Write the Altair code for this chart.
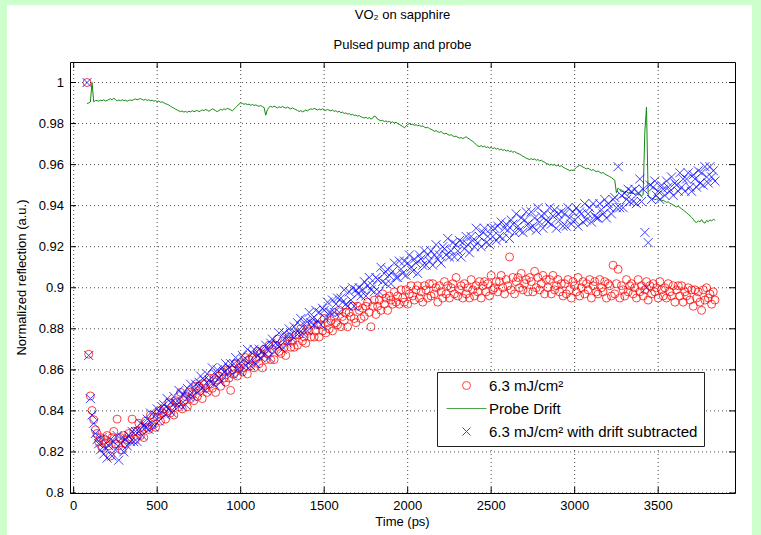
import altair as alt
import pandas as pd

# ---- measured data (10 ps sampling) --------------------------------------
time_ps = [
    80, 90, 100, 110, 120, 130,
    140, 150, 160, 170, 180, 190, 200, 210, 220, 230, 240, 250, 260, 270, 280, 290, 300, 310, 320, 330,
    340, 350, 360, 370, 380, 390, 400, 410, 420, 430, 440, 450, 460, 470, 480, 490, 500, 510, 520, 530,
    540, 550, 560, 570, 580, 590, 600, 610, 620, 630, 640, 650, 660, 670, 680, 690, 700, 710, 720, 730,
    740, 750, 760, 770, 780, 790, 800, 810, 820, 830, 840, 850, 860, 870, 880, 890, 900, 910, 920, 930,
    940, 950, 960, 970, 980, 990, 1000, 1010, 1020, 1030, 1040, 1050, 1060, 1070, 1080, 1090, 1100, 1110, 1120, 1130,
    1140, 1150, 1160, 1170, 1180, 1190, 1200, 1210, 1220, 1230, 1240, 1250, 1260, 1270, 1280, 1290, 1300, 1310, 1320, 1330,
    1340, 1350, 1360, 1370, 1380, 1390, 1400, 1410, 1420, 1430, 1440, 1450, 1460, 1470, 1480, 1490, 1500, 1510, 1520, 1530,
    1540, 1550, 1560, 1570, 1580, 1590, 1600, 1610, 1620, 1630, 1640, 1650, 1660, 1670, 1680, 1690, 1700, 1710, 1720, 1730,
    1740, 1750, 1760, 1770, 1780, 1790, 1800, 1810, 1820, 1830, 1840, 1850, 1860, 1870, 1880, 1890, 1900, 1910, 1920, 1930,
    1940, 1950, 1960, 1970, 1980, 1990, 2000, 2010, 2020, 2030, 2040, 2050, 2060, 2070, 2080, 2090, 2100, 2110, 2120, 2130,
    2140, 2150, 2160, 2170, 2180, 2190, 2200, 2210, 2220, 2230, 2240, 2250, 2260, 2270, 2280, 2290, 2300, 2310, 2320, 2330,
    2340, 2350, 2360, 2370, 2380, 2390, 2400, 2410, 2420, 2430, 2440, 2450, 2460, 2470, 2480, 2490, 2500, 2510, 2520, 2530,
    2540, 2550, 2560, 2570, 2580, 2590, 2600, 2610, 2620, 2630, 2640, 2650, 2660, 2670, 2680, 2690, 2700, 2710, 2720, 2730,
    2740, 2750, 2760, 2770, 2780, 2790, 2800, 2810, 2820, 2830, 2840, 2850, 2860, 2870, 2880, 2890, 2900, 2910, 2920, 2930,
    2940, 2950, 2960, 2970, 2980, 2990, 3000, 3010, 3020, 3030, 3040, 3050, 3060, 3070, 3080, 3090, 3100, 3110, 3120, 3130,
    3140, 3150, 3160, 3170, 3180, 3190, 3200, 3210, 3220, 3230, 3240, 3250, 3260, 3270, 3280, 3290, 3300, 3310, 3320, 3330,
    3340, 3350, 3360, 3370, 3380, 3390, 3400, 3410, 3420, 3430, 3440, 3450, 3460, 3470, 3480, 3490, 3500, 3510, 3520, 3530,
    3540, 3550, 3560, 3570, 3580, 3590, 3600, 3610, 3620, 3630, 3640, 3650, 3660, 3670, 3680, 3690, 3700, 3710, 3720, 3730,
    3740, 3750, 3760, 3770, 3780, 3790, 3800, 3810, 3820, 3830, 3840,
]

# normalized reflection at 6.3 mJ/cm^2
reflection = [
    1.000, 0.8676, 0.8473, 0.8402, 0.8357, 0.8308,
    .829, .825, .827, .822, .826, .824, .828, .823, .818, .827, .830, .824, .836, .823, .827, .821, .828, .824, .826, .829,
    .826, .836, .830, .826, .830, .834, .828, .832, .827, .835, .832, .831, .838, .833, .837, .832, .837, .840, .835, .839,
    .841, .836, .840, .844, .839, .842, .838, .845, .844, .842, .849, .841, .845, .847, .842, .849, .846, .848, .845, .852,
    .847, .852, .851, .846, .853, .851, .849, .856, .853, .851, .856, .849, .855, .857, .852, .859, .856, .854, .860, .856,
    .850, .860, .858, .863, .857, .861, .863, .859, .861, .866, .858, .865, .862, .866, .861, .865, .869, .863, .868, .861,
    .870, .865, .868, .872, .865, .870, .865, .872, .875, .869, .868, .874, .871, .867, .874, .876, .871, .874, .871, .877,
    .872, .877, .880, .874, .876, .873, .880, .879, .876, .883, .876, .879, .882, .876, .882, .879, .885, .878, .883, .880,
    .884, .879, .886, .883, .882, .889, .881, .886, .884, .888, .881, .888, .886, .891, .885, .883, .891, .889, .885, .890,
    .886, .891, .893, .888, .881, .891, .894, .887, .891, .894, .889, .897, .892, .895, .889, .896, .894, .892, .898, .893,
    .896, .892, .899, .895, .893, .899, .892, .897, .901, .896, .894, .899, .901, .895, .898, .893, .901, .899, .895, .902,
    .896, .902, .897, .900, .893, .901, .898, .895, .903, .897, .901, .895, .900, .902, .897, .905, .896, .899, .901, .895,
    .902, .897, .900, .895, .904, .899, .896, .901, .898, .903, .895, .901, .903, .898, .902, .896, .906, .899, .900, .903,
    .898, .903, .906, .900, .897, .904, .901, .915, .899, .905, .897, .903, .905, .900, .907, .899, .902, .904, .898, .905,
    .903, .898, .908, .900, .905, .899, .902, .906, .897, .904, .900, .904, .897, .906, .899, .901, .904, .898, .902, .896,
    .902, .897, .904, .899, .895, .903, .901, .898, .905, .896, .900, .903, .897, .902, .899, .904, .895, .901, .903, .898,
    .897, .904, .900, .898, .903, .895, .902, .901, .896, .911, .897, .902, .909, .895, .901, .899, .896, .904, .898, .901,
    .902, .897, .900, .895, .904, .898, .901, .896, .899, .903, .894, .901, .897, .902, .898, .900, .895, .903, .899, .896,
    .900, .895, .902, .898, .896, .901, .893, .899, .901, .896, .901, .893, .898, .896, .900, .894, .899, .891, .899, .895,
    .898, .893, .889, .899, .894, .900, .895, .897, .892, .898, .894,
]

# probe-only signal (drift reference)
drift = [
    0.9898, 0.9900, 0.9905, 1.0000, 0.9906, 0.9912,
    .9912, .9909, .9914, .9911, .9916, .9910, .9913, .9917, .9921, .9916, .9923, .9918, .9910, .9915, .9911, .9916, .9912, .9914, .9909, .9913,
    .9915, .9912, .9917, .9920, .9916, .9919, .9922, .9917, .9914, .9918, .9913, .9916, .9911, .9914, .9909, .9912, .9907, .9909, .9904, .9906,
    .9901, .9897, .9894, .9890, .9884, .9879, .9876, .9870, .9866, .9862, .9858, .9861, .9856, .9859, .9855, .9860, .9857, .9863, .9858, .9861,
    .9864, .9858, .9862, .9867, .9863, .9869, .9865, .9860, .9866, .9872, .9868, .9863, .9858, .9864, .9869, .9866, .9872, .9868, .9874, .9871,
    .9867, .9862, .9870, .9878, .9886, .9895, .9901, .9898, .9894, .9897, .9892, .9895, .9889, .9893, .9888, .9891, .9887, .9884, .9888, .9882,
    .9879, .9841, .9868, .9880, .9884, .9879, .9885, .9881, .9876, .9882, .9878, .9883, .9879, .9875, .9880, .9876, .9871, .9877, .9872, .9868,
    .9864, .9859, .9863, .9857, .9861, .9866, .9862, .9868, .9872, .9869, .9874, .9870, .9866, .9871, .9867, .9872, .9868, .9864, .9869, .9865,
    .9862, .9866, .9859, .9863, .9856, .9860, .9853, .9856, .9849, .9852, .9846, .9849, .9842, .9845, .9839, .9842, .9836, .9839, .9833, .9830,
    .9827, .9831, .9825, .9829, .9822, .9826, .9837, .9833, .9821, .9817, .9813, .9816, .9810, .9813, .9808, .9811, .9805, .9808, .9803, .9806,
    .9800, .9796, .9791, .9786, .9780, .9787, .9796, .9800, .9794, .9797, .9791, .9795, .9789, .9792, .9786, .9789, .9783, .9779, .9782, .9776,
    .9772, .9768, .9762, .9766, .9760, .9757, .9761, .9754, .9750, .9753, .9747, .9743, .9746, .9740, .9736, .9739, .9733, .9729, .9732, .9727,
    .9731, .9736, .9729, .9724, .9718, .9713, .9706, .9697, .9691, .9688, .9693, .9686, .9690, .9683, .9687, .9680, .9684, .9678, .9682, .9675,
    .9679, .9672, .9676, .9669, .9673, .9666, .9670, .9663, .9667, .9660, .9664, .9658, .9655, .9651, .9646, .9641, .9636, .9631, .9628, .9625,
    .9629, .9624, .9628, .9621, .9625, .9618, .9622, .9615, .9612, .9606, .9603, .9598, .9602, .9597, .9601, .9594, .9598, .9591, .9595, .9588,
    .9584, .9579, .9576, .9570, .9574, .9571, .9578, .9586, .9592, .9597, .9593, .9588, .9584, .9579, .9583, .9577, .9572, .9576, .9570, .9566,
    .9569, .9563, .9558, .9562, .9555, .9550, .9546, .9541, .9537, .9530, .9524, .9462, .9486, .9478, .9467, .9472, .9465, .9469, .9461, .9464,
    .9458, .9462, .9455, .9459, .9452, .9456, .9449, .9453, .9760, .9880, .9452, .9441, .9437, .9433, .9429, .9432, .9426, .9430, .9423, .9427,
    .9421, .9416, .9419, .9412, .9408, .9403, .9399, .9394, .9398, .9391, .9385, .9379, .9372, .9366, .9358, .9351, .9343, .9334, .9322, .9318,
    .9326, .9321, .9332, .9319, .9315, .9328, .9322, .9331, .9325, .9334, .9329,
]

# reflection after removing the probe drift
corrected = [
    1.000, 0.867, 0.846, 0.838, 0.834, 0.829,
    .826, .824, .821, .827, .819, .822, .817, .823, .826, .818, .825, .821, .828, .816, .824, .827, .820, .826, .823, .828,
    .825, .830, .825, .830, .825, .830, .834, .828, .833, .832, .836, .831, .839, .834, .832, .838, .841, .835, .839, .842,
    .843, .838, .846, .841, .844, .839, .847, .844, .843, .850, .843, .848, .848, .843, .851, .847, .853, .847, .850, .853,
    .849, .854, .857, .851, .855, .850, .858, .855, .854, .861, .853, .858, .860, .856, .854, .861, .859, .863, .858, .861,
    .863, .858, .863, .866, .860, .863, .859, .867, .865, .862, .870, .864, .862, .868, .870, .863, .867, .870, .866, .869,
    .867, .872, .870, .866, .873, .875, .869, .873, .872, .878, .872, .870, .878, .876, .873, .880, .877, .875, .881, .878,
    .883, .878, .885, .878, .882, .884, .879, .888, .883, .885, .882, .889, .884, .888, .882, .890, .889, .885, .893, .888,
    .888, .894, .888, .892, .895, .888, .895, .893, .899, .892, .891, .898, .894, .900, .891, .899, .897, .900, .896, .899,
    .903, .896, .901, .905, .899, .901, .898, .905, .904, .898, .910, .903, .907, .902, .909, .906, .902, .908, .912, .905,
    .905, .913, .909, .907, .913, .906, .912, .916, .910, .908, .914, .912, .907, .916, .914, .911, .918, .911, .916, .913,
    .918, .911, .916, .921, .914, .916, .912, .920, .919, .916, .924, .915, .918, .922, .915, .921, .918, .923, .915, .922,
    .919, .925, .921, .917, .925, .923, .920, .929, .922, .925, .920, .927, .929, .922, .925, .921, .929, .925, .929, .923,
    .930, .925, .932, .924, .929, .931, .928, .924, .933, .931, .927, .936, .930, .928, .934, .927, .933, .937, .931, .929,
    .937, .930, .934, .928, .939, .932, .935, .929, .936, .933, .932, .939, .931, .935, .938, .929, .936, .933, .937, .930,
    .936, .930, .939, .934, .931, .937, .933, .939, .930, .937, .936, .932, .941, .933, .936, .939, .932, .941, .935, .934,
    .934, .941, .938, .936, .943, .934, .941, .939, .936, .943, .944, .939, .959, .939, .945, .939, .946, .943, .948, .942,
    .947, .942, .948, .941, .946, .953, .942, .948, .927, .900, .922, .950, .943, .949, .952, .945, .947, .943, .950, .948,
    .945, .952, .949, .947, .954, .945, .951, .950, .947, .956, .949, .953, .947, .953, .956, .949, .947, .955, .953, .949,
    .957, .951, .956, .950, .959, .954, .951, .959, .954, .957, .952,
]

series_names = ["6.3 mJ/cm²", "Probe Drift", "6.3 mJ/cm² with drift subtracted"]
x_ticks = [0, 500, 1000, 1500, 2000, 2500, 3000, 3500]
x_tick_labels = ["0", "500", "1000", "1500", "2000", "2500", "3000", "3500"]
y_ticks = [0.8, 0.82, 0.84, 0.86, 0.88, 0.9, 0.92, 0.94, 0.96, 0.98, 1.0]
y_tick_labels = ["0.8", "0.82", "0.84", "0.86", "0.88", "0.9", "0.92", "0.94", "0.96", "0.98", "1"]
title_lines = ["VO₂ on sapphire", "Pulsed pump and probe"]
x_title = "Time (ps)"
y_title = "Normalized reflection (a.u.)"

# ---- tables --------------------------------------------------------------
n = len(time_ps)
points = pd.DataFrame({
    "time": time_ps + time_ps,
    "value": reflection + corrected,
    "series": [series_names[0]] * n + [series_names[2]] * n,
})
drift_df = pd.DataFrame({"time": time_ps, "value": drift})
xt_df = pd.DataFrame({"tick": x_ticks, "label": x_tick_labels})
yt_df = pd.DataFrame({"tick": y_ticks, "label": y_tick_labels})

W, H = 665, 431
FONT = "Liberation Sans"
RED, GREEN, BLUE = "#ff0000", "#118a11", "#0000ff"
CROSS = "M-1,-1L1,1M-1,1L1,-1"
DASH = "M-5,0L5,0"

xs = alt.Scale(domain=[-22, 3960], nice=False, zero=False)
ys = alt.Scale(domain=[0.8, 1.01], nice=False, zero=False)

legend = alt.Legend(orient="none", legendX=367, legendY=310, title=None,
                    strokeColor="#222222", fillColor="white", padding=6,
                    labelFont=FONT, labelFontSize=15, labelColor="black",
                    labelOffset=15, symbolOffset=16, symbolSize=64,
                    rowPadding=7, symbolStrokeWidth=1, labelLimit=400)

color_scale = alt.Scale(domain=series_names, range=[RED, GREEN, BLUE])
shape_scale = alt.Scale(domain=series_names, range=["circle", DASH, CROSS])

one_row = alt.Data(values=[{}])


# light-green frame around the figure
def strip(x0, x1, y0, y1):
    return alt.Chart(one_row).mark_rect(color="#ccffcc", clip=False).encode(
        x=alt.value(x0), x2=alt.value(x1), y=alt.value(y0), y2=alt.value(y1))


strips = [
    strip(-70, -63, -62, 473),
    strip(-70, 691, -62, -57),
    strip(682, 691, -62, 473),
]

# dotted grid
grid_style = dict(color="black", strokeWidth=1, strokeDash=[1, 3], opacity=0.7)
grid_v = alt.Chart(xt_df).mark_rule(**grid_style).encode(
    x=alt.X("tick:Q", scale=xs, axis=None), y=alt.value(0), y2=alt.value(H))
grid_h = alt.Chart(yt_df).mark_rule(**grid_style).encode(
    y=alt.Y("tick:Q", scale=ys, axis=None), x=alt.value(0), x2=alt.value(W))

circles = alt.Chart(points).transform_filter(
    alt.datum.series == series_names[0]
).mark_point(filled=False, strokeWidth=1, opacity=0.75, size=64).encode(
    x=alt.X("time:Q", scale=xs, axis=None),
    y=alt.Y("value:Q", scale=ys, axis=None),
    color=alt.Color("series:N", scale=color_scale, legend=legend),
    shape=alt.Shape("series:N", scale=shape_scale, legend=legend),
)

drift_line = alt.Chart(drift_df).mark_line(color=GREEN, strokeWidth=1).encode(
    x=alt.X("time:Q", scale=xs, axis=None),
    y=alt.Y("value:Q", scale=ys, axis=None),
)

crosses = alt.Chart(points).transform_filter(
    alt.datum.series == series_names[2]
).mark_point(filled=False, strokeWidth=1, opacity=0.75, size=81).encode(
    x=alt.X("time:Q", scale=xs, axis=None),
    y=alt.Y("value:Q", scale=ys, axis=None),
    color=alt.Color("series:N", scale=color_scale, legend=None),
    shape=alt.Shape("series:N", scale=shape_scale, legend=None),
)

# inward tick marks on all four sides
tick_style = dict(color="black", strokeWidth=1)
xt_bottom = alt.Chart(xt_df).mark_rule(**tick_style).encode(
    x=alt.X("tick:Q", scale=xs, axis=None), y=alt.value(H), y2=alt.value(H - 6))
xt_top = alt.Chart(xt_df).mark_rule(**tick_style).encode(
    x=alt.X("tick:Q", scale=xs, axis=None), y=alt.value(0), y2=alt.value(6))
yt_left = alt.Chart(yt_df).mark_rule(**tick_style).encode(
    y=alt.Y("tick:Q", scale=ys, axis=None), x=alt.value(0), x2=alt.value(6))
yt_right = alt.Chart(yt_df).mark_rule(**tick_style).encode(
    y=alt.Y("tick:Q", scale=ys, axis=None), x=alt.value(W), x2=alt.value(W - 6))

# tick labels
text_style = dict(font=FONT, fontSize=13, color="black")
x_labels = alt.Chart(xt_df).mark_text(align="center", baseline="middle", **text_style).encode(
    x=alt.X("tick:Q", scale=xs, axis=None), y=alt.value(H + 13), text="label:N")
y_labels = alt.Chart(yt_df).mark_text(align="right", baseline="middle", **text_style).encode(
    y=alt.Y("tick:Q", scale=ys, axis=None), x=alt.value(-6), text="label:N")

# axis titles and figure title
x_title_mark = alt.Chart(one_row).mark_text(align="center", baseline="middle", **text_style).encode(
    x=alt.value(W / 2), y=alt.value(H + 29), text=alt.value(x_title))
y_title_mark = alt.Chart(one_row).mark_text(align="center", baseline="middle", angle=270,
                                            **text_style).encode(
    x=alt.value(-48), y=alt.value(H / 2), text=alt.value(y_title))
title_1 = alt.Chart(one_row).mark_text(align="center", baseline="middle", **text_style).encode(
    x=alt.value(W / 2), y=alt.value(-47), text=alt.value(title_lines[0]))
title_2 = alt.Chart(one_row).mark_text(align="center", baseline="middle", **text_style).encode(
    x=alt.value(W / 2), y=alt.value(-17), text=alt.value(title_lines[1]))

chart = alt.layer(
    grid_v, grid_h, circles, drift_line, crosses,
    xt_bottom, xt_top, yt_left, yt_right,
    x_labels, y_labels, x_title_mark, y_title_mark, title_1, title_2,
    *strips,
).properties(
    width=W, height=H, padding=0, background="white",
).configure_view(
    stroke="black", strokeWidth=1, fill="white"
)

chart.save("out.html", embed_options={"renderer": "svg", "actions": False})
